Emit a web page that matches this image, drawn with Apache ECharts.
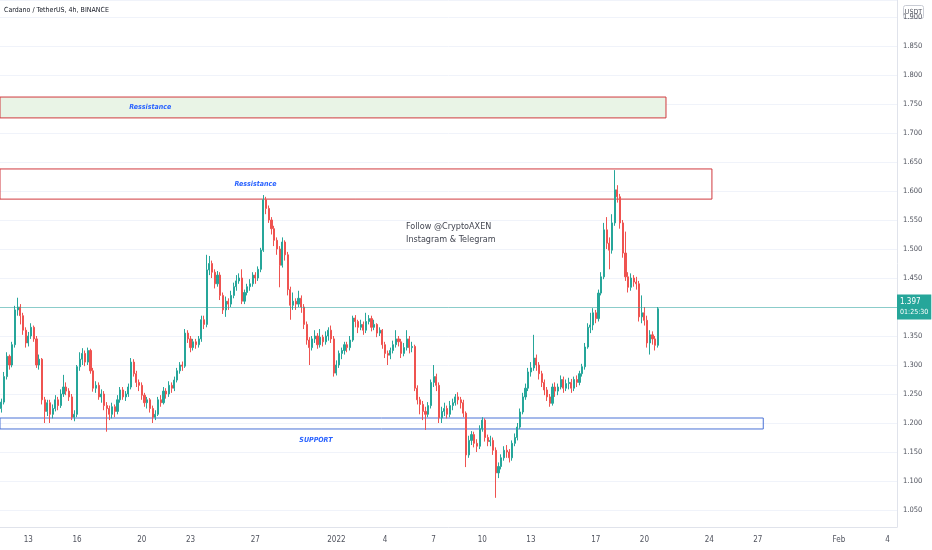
<!DOCTYPE html>
<html><head><meta charset="utf-8">
<script src="https://cdn.jsdelivr.net/npm/echarts@6/dist/echarts.min.js"></script>
<style>html,body{margin:0;padding:0;background:#fff}#c{width:932px;height:550px}</style>
</head><body><div id="c"></div>
<script>
// ---- data ----
const startTime = Date.UTC(2021, 11, 11, 8);   // first 4h slot on the time scale
const slotCount = 332;                          // 4h slots visible (to Feb 4)
const tickDates = ['2021-12-13 00:00','2021-12-16 00:00','2021-12-20 00:00','2021-12-23 00:00','2021-12-27 00:00','2022-01-01 00:00','2022-01-04 00:00','2022-01-07 00:00','2022-01-10 00:00','2022-01-13 00:00','2022-01-17 00:00','2022-01-20 00:00','2022-01-24 00:00','2022-01-27 00:00','2022-02-01 00:00','2022-02-04 00:00'];
const tickTexts = ['13','16','20','23','27','2022','4','7','10','13','17','20','24','27','Feb','4'];

// [open, close, low, high] per 4h candle
const candles = [
[1.225,1.236,1.218,1.242],[1.236,1.28,1.232,1.288],[1.28,1.315,1.275,1.322],[1.315,1.30,1.292,1.318],[1.30,1.335,1.296,1.34],[1.335,1.395,1.33,1.402],
[1.395,1.40,1.385,1.416],[1.40,1.385,1.37,1.405],[1.385,1.36,1.352,1.39],[1.36,1.338,1.33,1.365],[1.338,1.35,1.332,1.357],[1.35,1.365,1.345,1.372],
[1.365,1.345,1.34,1.368],[1.345,1.30,1.295,1.35],[1.30,1.31,1.292,1.318],[1.31,1.24,1.232,1.312],[1.24,1.22,1.20,1.245],[1.22,1.235,1.212,1.24],
[1.235,1.215,1.20,1.24],[1.215,1.225,1.208,1.232],[1.225,1.24,1.22,1.248],[1.24,1.23,1.222,1.245],[1.23,1.25,1.226,1.258],[1.25,1.262,1.245,1.283],
[1.262,1.255,1.248,1.27],[1.255,1.245,1.238,1.26],[1.245,1.21,1.205,1.25],[1.21,1.215,1.203,1.222],[1.215,1.297,1.21,1.30],[1.297,1.31,1.29,1.322],
[1.31,1.32,1.30,1.329],[1.32,1.305,1.298,1.325],[1.305,1.325,1.30,1.33],[1.325,1.29,1.285,1.328],[1.29,1.26,1.254,1.295],[1.26,1.265,1.252,1.272],
[1.265,1.245,1.24,1.27],[1.245,1.25,1.235,1.258],[1.25,1.23,1.222,1.255],[1.23,1.225,1.185,1.236],[1.225,1.215,1.205,1.23],[1.215,1.228,1.208,1.235],
[1.228,1.22,1.21,1.232],[1.22,1.24,1.215,1.248],[1.24,1.257,1.235,1.262],[1.257,1.245,1.24,1.262],[1.245,1.25,1.238,1.255],[1.25,1.262,1.245,1.268],
[1.262,1.305,1.258,1.312],[1.305,1.285,1.28,1.31],[1.285,1.27,1.262,1.29],[1.27,1.265,1.255,1.275],[1.265,1.248,1.24,1.27],[1.248,1.235,1.228,1.252],
[1.235,1.24,1.225,1.245],[1.24,1.225,1.218,1.243],[1.225,1.21,1.20,1.23],[1.21,1.215,1.205,1.222],[1.215,1.24,1.212,1.245],[1.24,1.235,1.228,1.248],
[1.235,1.255,1.232,1.262],[1.255,1.25,1.242,1.26],[1.25,1.265,1.245,1.272],[1.265,1.26,1.252,1.27],[1.26,1.274,1.255,1.28],[1.274,1.29,1.27,1.295],
[1.29,1.30,1.285,1.305],[1.30,1.298,1.29,1.306],[1.298,1.355,1.295,1.362],[1.355,1.345,1.338,1.36],[1.345,1.33,1.322,1.35],[1.33,1.34,1.325,1.345],
[1.34,1.335,1.328,1.345],[1.335,1.345,1.33,1.35],[1.345,1.378,1.34,1.385],[1.378,1.37,1.362,1.385],[1.37,1.464,1.365,1.49],[1.464,1.475,1.455,1.488],
[1.475,1.46,1.45,1.48],[1.46,1.44,1.432,1.465],[1.44,1.455,1.435,1.462],[1.455,1.42,1.412,1.46],[1.42,1.395,1.388,1.425],[1.395,1.41,1.383,1.418],
[1.41,1.405,1.395,1.415],[1.405,1.42,1.40,1.428],[1.42,1.435,1.415,1.442],[1.435,1.445,1.428,1.455],[1.445,1.45,1.44,1.458],[1.45,1.41,1.405,1.465],
[1.41,1.425,1.405,1.43],[1.425,1.435,1.42,1.44],[1.435,1.44,1.428,1.448],[1.44,1.455,1.435,1.46],[1.455,1.45,1.44,1.46],[1.45,1.465,1.445,1.47],
[1.465,1.498,1.46,1.502],[1.498,1.585,1.495,1.593],[1.585,1.57,1.56,1.59],[1.57,1.55,1.545,1.575],[1.55,1.535,1.525,1.555],[1.535,1.515,1.505,1.54],
[1.515,1.50,1.49,1.52],[1.50,1.472,1.434,1.505],[1.472,1.512,1.468,1.52],[1.512,1.49,1.48,1.515],[1.49,1.43,1.42,1.495],[1.43,1.403,1.378,1.435],
[1.403,1.41,1.395,1.425],[1.41,1.405,1.395,1.415],[1.405,1.415,1.40,1.428],[1.415,1.40,1.39,1.42],[1.40,1.37,1.362,1.405],[1.37,1.343,1.335,1.375],
[1.343,1.33,1.30,1.348],[1.33,1.345,1.325,1.35],[1.345,1.35,1.338,1.36],[1.35,1.335,1.328,1.355],[1.335,1.348,1.33,1.362],[1.348,1.34,1.332,1.352],
[1.34,1.35,1.335,1.358],[1.35,1.36,1.342,1.365],[1.36,1.345,1.338,1.368],[1.345,1.286,1.28,1.35],[1.286,1.30,1.282,1.308],[1.30,1.32,1.295,1.325],
[1.32,1.325,1.31,1.33],[1.325,1.335,1.318,1.34],[1.335,1.33,1.322,1.34],[1.33,1.343,1.325,1.35],[1.343,1.381,1.34,1.385],[1.381,1.375,1.365,1.386],
[1.375,1.365,1.355,1.378],[1.365,1.37,1.36,1.378],[1.37,1.36,1.352,1.375],[1.36,1.375,1.355,1.39],[1.375,1.38,1.37,1.386],[1.38,1.365,1.358,1.385],
[1.365,1.37,1.36,1.378],[1.37,1.355,1.348,1.372],[1.355,1.36,1.35,1.365],[1.36,1.335,1.328,1.362],[1.335,1.32,1.312,1.34],[1.32,1.317,1.30,1.325],
[1.317,1.325,1.31,1.33],[1.325,1.335,1.32,1.342],[1.335,1.345,1.33,1.36],[1.345,1.34,1.332,1.35],[1.34,1.32,1.312,1.345],[1.32,1.33,1.315,1.338],
[1.33,1.345,1.325,1.36],[1.345,1.33,1.32,1.35],[1.33,1.332,1.322,1.34],[1.332,1.26,1.255,1.335],[1.26,1.24,1.232,1.265],[1.24,1.232,1.215,1.245],
[1.232,1.22,1.205,1.238],[1.22,1.215,1.188,1.228],[1.215,1.23,1.21,1.236],[1.23,1.27,1.225,1.275],[1.27,1.28,1.262,1.30],[1.28,1.265,1.255,1.285],
[1.265,1.209,1.20,1.27],[1.209,1.22,1.20,1.228],[1.22,1.225,1.212,1.235],[1.225,1.215,1.208,1.23],[1.215,1.23,1.21,1.238],[1.23,1.235,1.222,1.242],
[1.235,1.245,1.23,1.25],[1.245,1.24,1.232,1.253],[1.24,1.235,1.225,1.245],[1.235,1.217,1.21,1.24],[1.217,1.145,1.124,1.22],[1.145,1.17,1.14,1.178],
[1.17,1.18,1.162,1.186],[1.18,1.165,1.158,1.185],[1.165,1.16,1.15,1.172],[1.16,1.19,1.155,1.196],[1.19,1.205,1.185,1.21],[1.205,1.175,1.168,1.208],
[1.175,1.168,1.16,1.18],[1.168,1.17,1.16,1.178],[1.17,1.153,1.145,1.175],[1.153,1.114,1.071,1.158],[1.114,1.125,1.105,1.132],[1.125,1.14,1.12,1.146],
[1.14,1.153,1.135,1.16],[1.153,1.15,1.14,1.162],[1.15,1.14,1.132,1.155],[1.14,1.165,1.135,1.17],[1.165,1.175,1.16,1.182],[1.175,1.193,1.17,1.20],
[1.193,1.219,1.19,1.225],[1.219,1.245,1.215,1.252],[1.245,1.26,1.24,1.268],[1.26,1.288,1.255,1.295],[1.288,1.295,1.28,1.305],[1.295,1.312,1.29,1.352],
[1.312,1.30,1.29,1.318],[1.30,1.285,1.275,1.305],[1.285,1.27,1.262,1.29],[1.27,1.257,1.248,1.275],[1.257,1.245,1.238,1.262],[1.245,1.234,1.228,1.25],
[1.234,1.262,1.23,1.268],[1.262,1.255,1.245,1.27],[1.255,1.262,1.248,1.268],[1.262,1.275,1.258,1.282],[1.275,1.26,1.252,1.28],[1.26,1.268,1.255,1.275],
[1.268,1.27,1.258,1.278],[1.27,1.26,1.252,1.276],[1.26,1.275,1.255,1.28],[1.275,1.27,1.262,1.282],[1.27,1.285,1.265,1.29],[1.285,1.297,1.28,1.302],
[1.297,1.331,1.292,1.338],[1.331,1.365,1.328,1.372],[1.365,1.369,1.355,1.39],[1.369,1.39,1.36,1.398],[1.39,1.38,1.372,1.395],[1.38,1.424,1.375,1.43],
[1.424,1.452,1.42,1.46],[1.452,1.533,1.448,1.545],[1.533,1.51,1.50,1.555],[1.51,1.498,1.465,1.52],[1.498,1.545,1.492,1.56],[1.545,1.602,1.54,1.636],
[1.602,1.59,1.58,1.61],[1.59,1.545,1.535,1.595],[1.545,1.493,1.485,1.55],[1.493,1.452,1.445,1.53],[1.452,1.434,1.425,1.46],[1.434,1.45,1.428,1.458],
[1.45,1.443,1.435,1.455],[1.443,1.44,1.43,1.452],[1.44,1.383,1.375,1.445],[1.383,1.39,1.372,1.42],[1.39,1.377,1.368,1.40],[1.377,1.338,1.33,1.385],
[1.338,1.352,1.318,1.36],[1.352,1.345,1.335,1.358],[1.345,1.334,1.325,1.35],[1.334,1.397,1.33,1.40]
];

const lastPrice = 1.397;
const countdown = '01:25:30';
const zoneNames  = ['Ressistance', 'Ressistance', 'SUPPORT'];
const zoneTop    = [1.762, 1.638, 1.2086];
const zoneBottom = [1.726, 1.586, 1.1897];
const zoneEndSlot = [246, 263, 282];
const titleText = 'Cardano / TetherUS, 4h, BINANCE';
const noteLines = ['Follow @CryptoAXEN', 'Instagram & Telegram'];

// ---- build ----
const cats = [];
for (let k = 0; k < slotCount; k++) {
  const d = new Date(startTime + k * 4 * 3600e3);
  cats.push(d.toISOString().slice(0, 13).replace('T', ' ') + ':00');
}
const FONT = "'Liberation Sans Narrow','DejaVu Sans Condensed','Roboto',sans-serif";
const UP = '#26a69a', DOWN = '#ef5350';

const zoneStyles = [
  { fill: '#e9f4e6', border: '#d0393e', label: { position: ['22.6%', '50%'] } },
  { fill: 'rgba(255,255,255,0)', border: '#d0393e', label: { position: ['35.9%', '50%'] } },
  { fill: 'rgba(255,255,255,0)', border: '#4a72d6', label: { position: ['41.4%', '190%'] } }
];
const areaData = zoneNames.map((n, i) => [
  { name: n, yAxis: zoneTop[i],
    itemStyle: { color: zoneStyles[i].fill, borderColor: zoneStyles[i].border, borderWidth: 1 },
    label: zoneStyles[i].label },
  { xAxis: cats[zoneEndSlot[i]], yAxis: zoneBottom[i] }
]);

const chart = echarts.init(document.getElementById('c'), null, { renderer: 'canvas' });
chart.setOption({
  animation: false,
  backgroundColor: '#ffffff',
  textStyle: { fontFamily: FONT },
  grid: { left: 0, right: 35, top: 0, bottom: 23, containLabel: false, outerBoundsMode: 'none' },
  xAxis: {
    type: 'category',
    data: cats,
    boundaryGap: true,
    axisLine: { show: true, lineStyle: { color: '#e0e3eb', width: 1 } },
    axisTick: { show: false },
    splitLine: { show: false },
    axisLabel: {
      interval: (idx, val) => tickDates.indexOf(val) >= 0,
      formatter: (val) => tickTexts[tickDates.indexOf(val)],
      color: '#50535e', fontSize: 8, margin: 9, fontFamily: FONT
    }
  },
  yAxis: {
    type: 'value',
    position: 'right',
    min: 1.0207, max: 1.9293,
    splitNumber: 18,
    scale: true,
    axisLine: { show: true, lineStyle: { color: '#e0e3eb', width: 1 } },
    axisTick: { show: false },
    splitLine: { show: true, lineStyle: { color: '#f0f3fa', width: 1 } },
    axisLabel: {
      showMinLabel: false, showMaxLabel: false,
      color: '#50535e', fontSize: 7.5, margin: 6, fontFamily: FONT,
      formatter: (v) => (Math.abs(v / 0.05 - Math.round(v / 0.05)) < 1e-6 && Math.abs(v - lastPrice) > 0.02) ? v.toFixed(3) : ''
    }
  },
  series: [{
    type: 'candlestick',
    data: candles,
    barWidth: 1.6,
    itemStyle: { color: UP, color0: DOWN, borderColor: UP, borderColor0: DOWN, borderWidth: 1 },
    markArea: {
      silent: true,
      label: { show: true, color: '#2962ff', fontStyle: 'italic', fontWeight: 'bold', fontSize: 7,
               align: 'center', verticalAlign: 'middle', fontFamily: FONT },
      data: areaData
    },
    markLine: {
      silent: true, symbol: 'none',
      lineStyle: { color: 'rgba(38,166,154,0.5)', type: 'solid', width: 1 },
      label: {
        show: true, position: 'end', distance: 0,
        backgroundColor: UP, padding: [2, 3, 2, 3],
        formatter: () => '{a|' + lastPrice.toFixed(3) + '}\n{b|' + countdown + '}',
        rich: {
          a: { color: '#ffffff', fontSize: 8, lineHeight: 11, fontFamily: FONT },
          b: { color: '#ffffff', fontSize: 7, lineHeight: 10, fontFamily: FONT }
        }
      },
      data: [{ yAxis: lastPrice }]
    }
  }],
  graphic: [
    { type: 'text', left: 4, top: 7, style: { text: titleText, fill: '#131722', font: '7px ' + FONT } },
    { type: 'text', left: 406, top: 220, style: { text: noteLines.join('\n'), fill: '#434651', font: '9px ' + FONT, lineHeight: 13 } },
    { type: 'group', right: 8, top: 5, children: [
      { type: 'rect', shape: { x: 0, y: 0, width: 20, height: 13, r: 2 }, style: { fill: '#fff', stroke: '#c9ccd4', lineWidth: 1 } },
      { type: 'text', x: 10, y: 7, style: { text: 'USDT', fill: '#50535e', font: '7px ' + FONT, align: 'center', verticalAlign: 'middle' } }
    ]}
  ]
});
</script>
</body></html>
